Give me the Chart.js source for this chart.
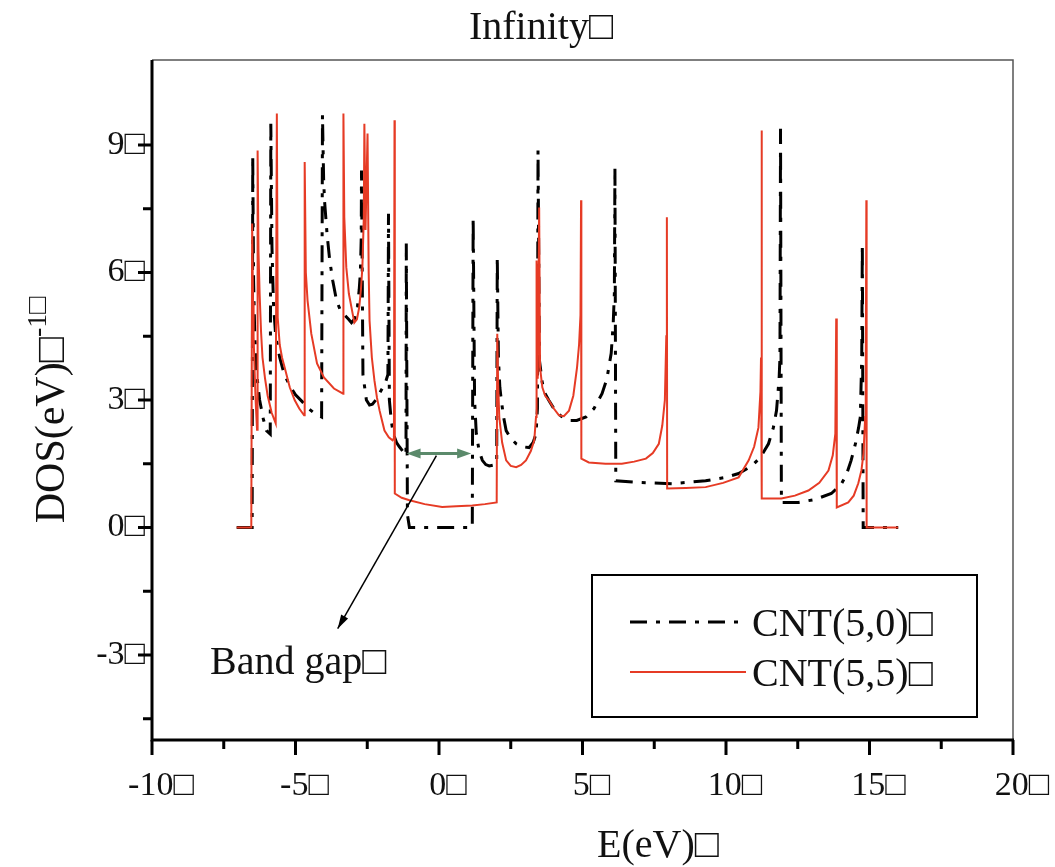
<!DOCTYPE html>
<html>
<head>
<meta charset="utf-8">
<script src="https://cdn.jsdelivr.net/npm/chart.js@4.4.0/dist/chart.umd.min.js"></script>
<style>
  html, body { margin: 0; padding: 0; background: #fff; }
  #divChartDos { width: 1055px; height: 867px; position: relative; }
</style>
</head>
<body>
<div id="divChartDos"><canvas id="chartDos"></canvas></div>
<script>
// values: [E (eV), DOS (1/eV)]
var cnt50 = [
    [-7.05, 0], [-6.51, 0], [-6.49, 8.75], [-6.46, 5.8], [-6.42, 4.56], [-6.35, 3.6], [-6.25, 3.0], [-6.12, 2.55],
    [-6.01, 2.28], [-5.88, 2.2], [-5.86, 9.5], [-5.82, 6.6], [-5.77, 5.3], [-5.69, 4.5], [-5.55, 4.0], [-5.40, 3.62],
    [-5.21, 3.35], [-5.00, 3.12], [-4.75, 2.95], [-4.55, 2.8], [-4.40, 2.72], [-4.09, 2.6], [-4.06, 9.7], [-4.02, 8.2],
    [-3.99, 7.7], [-3.90, 6.9], [-3.81, 6.3], [-3.70, 5.8], [-3.57, 5.34], [-3.43, 5.1], [-3.29, 5.0], [-3.15, 4.9],
    [-3.05, 4.82], [-2.95, 4.9], [-2.84, 5.2], [-2.78, 5.6], [-2.74, 6.0], [-2.71, 6.8], [-2.70, 8.4], [-2.65, 3.6],
    [-2.53, 3.0], [-2.42, 2.88], [-2.32, 2.9], [-2.20, 3.0], [-2.08, 3.15], [-1.95, 3.3], [-1.87, 3.4], [-1.78, 3.6],
    [-1.76, 7.38], [-1.73, 3.0], [-1.66, 2.5], [-1.59, 2.2], [-1.48, 2.0], [-1.38, 1.9], [-1.21, 1.75], [-1.15, 1.7],
    [-1.14, 6.68], [-1.10, 0.3], [-1.03, 0], [1.16, 0], [1.19, 7.3], [1.24, 3.0], [1.30, 2.2], [1.40, 1.8],
    [1.51, 1.58], [1.63, 1.48], [1.75, 1.45], [1.90, 1.47], [2.01, 1.5], [2.03, 6.37], [2.07, 4.0], [2.12, 3.3],
    [2.17, 3.0], [2.25, 2.6], [2.34, 2.28], [2.50, 2.1], [2.69, 1.97], [2.90, 1.9], [3.14, 1.88], [3.28, 2.0],
    [3.38, 2.2], [3.43, 2.8], [3.45, 8.87], [3.50, 3.93], [3.60, 3.4], [3.70, 3.15], [3.83, 2.99], [4.00, 2.8],
    [4.25, 2.62], [4.53, 2.52], [4.80, 2.52], [5.12, 2.6], [5.40, 2.8], [5.68, 3.15], [5.85, 3.5], [6.00, 4.1],
    [6.07, 4.8], [6.11, 5.5], [6.13, 8.47], [6.16, 1.1], [6.97, 1.06], [8.11, 1.03], [9.29, 1.1], [10.00, 1.18],
    [10.44, 1.27], [10.90, 1.45], [11.20, 1.65], [11.48, 1.97], [11.65, 2.35], [11.76, 2.75], [11.85, 3.5], [11.88, 4.0],
    [11.90, 9.38], [11.93, 0.59], [12.52, 0.59], [13.10, 0.66], [13.67, 0.8], [14.00, 1.0], [14.20, 1.25], [14.36, 1.58],
    [14.52, 2.0], [14.62, 2.35], [14.68, 2.6], [14.73, 4.0], [14.75, 6.68], [14.78, 0], [16.0, 0]
];
var cnt55 = [
    [-7.05, 0], [-6.54, 0], [-6.51, 7.15], [-6.48, 5.3], [-6.46, 4.5], [-6.42, 3.6], [-6.39, 3.0], [-6.34, 2.3],
    [-6.32, 8.87], [-6.29, 6.5], [-6.25, 5.5], [-6.20, 4.6], [-6.15, 4.0], [-6.06, 3.5], [-5.97, 3.1], [-5.83, 2.7],
    [-5.69, 2.45], [-5.65, 9.74], [-5.62, 4.94], [-5.55, 4.3], [-5.47, 4.0], [-5.38, 3.77], [-5.20, 3.3], [-5.03, 3.0],
    [-4.87, 2.8], [-4.70, 2.64], [-4.68, 8.6], [-4.64, 6.0], [-4.58, 5.34], [-4.45, 4.56], [-4.25, 3.86], [-4.01, 3.53],
    [-3.66, 3.27], [-3.34, 3.15], [-3.33, 9.74], [-3.30, 7.3], [-3.23, 6.12], [-3.14, 5.5], [-3.05, 5.18], [-2.95, 4.82],
    [-2.86, 4.9], [-2.78, 5.18], [-2.72, 5.6], [-2.67, 6.12], [-2.62, 7.3], [-2.60, 9.5], [-2.56, 7.0], [-2.49, 9.27],
    [-2.45, 6.0], [-2.42, 4.87], [-2.34, 4.0], [-2.25, 3.46], [-2.16, 3.05], [-2.07, 2.75], [-1.98, 2.5], [-1.90, 2.28],
    [-1.75, 2.12], [-1.62, 2.05], [-1.57, 2.1], [-1.55, 9.58], [-1.54, 0.8], [-1.30, 0.7], [-1.03, 0.64], [-0.50, 0.55],
    [0.11, 0.48], [0.60, 0.5], [1.16, 0.52], [1.60, 0.55], [2.01, 0.59], [2.03, 4.56], [2.06, 3.4], [2.10, 2.6],
    [2.20, 2.0], [2.34, 1.58], [2.50, 1.45], [2.69, 1.42], [2.86, 1.47], [3.03, 1.58], [3.20, 1.8], [3.32, 2.05],
    [3.38, 2.6], [3.40, 6.28], [3.44, 3.5], [3.49, 7.53], [3.52, 3.77], [3.60, 3.3], [3.70, 3.1], [3.83, 2.99],
    [4.00, 2.8], [4.18, 2.64], [4.35, 2.62], [4.53, 2.75], [4.68, 3.1], [4.81, 3.77], [4.88, 4.3], [4.93, 5.0],
    [4.95, 7.7], [4.96, 1.62], [5.22, 1.53], [5.80, 1.5], [6.37, 1.5], [6.80, 1.55], [7.21, 1.62], [7.45, 1.75],
    [7.66, 1.97], [7.78, 2.4], [7.87, 3.0], [7.92, 4.5], [7.94, 7.3], [7.95, 0.92], [8.60, 0.93], [9.29, 0.95],
    [9.90, 1.05], [10.44, 1.18], [10.79, 1.58], [10.98, 1.9], [11.13, 2.35], [11.20, 3.2], [11.22, 4.0], [11.24, 9.34],
    [11.25, 0.68], [11.93, 0.68], [12.40, 0.75], [12.87, 0.87], [13.25, 1.05], [13.57, 1.34], [13.72, 1.7], [13.81, 2.21],
    [13.84, 4.92], [13.86, 0.47], [14.26, 0.59], [14.45, 0.75], [14.61, 1.04], [14.72, 1.35], [14.79, 1.74], [14.85, 2.6],
    [14.87, 3.5], [14.89, 7.7], [14.90, 0], [16.0, 0]
];

var xMajorTicks = [-10, -5, 0, 5, 10, 15, 20];
var xMinorTicks = [-7.5, -2.5, 2.5, 7.5, 12.5, 17.5];
var yMajorTicks = [-3, 0, 3, 6, 9];
var yMinorTicks = [-4.5, -1.5, 1.5, 4.5, 7.5];
var seriesNames = ['CNT(5,0)\u25A1', 'CNT(5,5)\u25A1'];

// band gap marker (data units)
var gapArrow = {x1: -1.13, x2: 1.12, y: 1.74};
var pointer = {x1: -0.09, y1: 1.69, x2: -3.53, y2: -2.38};
var gapLabel = {x: -7.98, y: -3.44, text: 'Band gap\u25A1'};

var serif = '"Liberation Serif", "Times New Roman", serif';
var black = '#000';
var red = '#e63b25';

function toPoints(pairs) {
    return pairs.map(function(p) { return {x: p[0], y: p[1]}; });
}

function arrowHead(ctx, fromX, fromY, toX, toY, len, half) {
    var ang = Math.atan2(toY - fromY, toX - fromX);
    ctx.beginPath();
    ctx.moveTo(toX, toY);
    ctx.lineTo(toX - len * Math.cos(ang) + half * Math.sin(ang), toY - len * Math.sin(ang) - half * Math.cos(ang));
    ctx.lineTo(toX - len * Math.cos(ang) - half * Math.sin(ang), toY - len * Math.sin(ang) + half * Math.cos(ang));
    ctx.closePath();
    ctx.fill();
}

var decorPlugin = {
    id: 'decor',
    afterDatasetsDraw: function(chart) {
        var ctx = chart.ctx, a = chart.chartArea;
        var sx = chart.scales.x, sy = chart.scales.y;
        ctx.save();

        // frame
        ctx.strokeStyle = '#555';
        ctx.lineWidth = 1.5;
        ctx.beginPath();
        ctx.moveTo(a.left, a.top); ctx.lineTo(a.right, a.top); ctx.lineTo(a.right, a.bottom);
        ctx.stroke();
        ctx.strokeStyle = black;
        ctx.lineWidth = 3;
        ctx.beginPath();
        ctx.moveTo(a.left, a.top); ctx.lineTo(a.left, a.bottom); ctx.lineTo(a.right + 1, a.bottom);
        ctx.stroke();

        // ticks
        ctx.beginPath();
        xMajorTicks.forEach(function(v) { var p = sx.getPixelForValue(v); ctx.moveTo(p, a.bottom); ctx.lineTo(p, a.bottom + 15); });
        xMinorTicks.forEach(function(v) { var p = sx.getPixelForValue(v); ctx.moveTo(p, a.bottom); ctx.lineTo(p, a.bottom + 9); });
        yMajorTicks.forEach(function(v) { var p = sy.getPixelForValue(v); ctx.moveTo(a.left, p); ctx.lineTo(a.left - 14, p); });
        yMinorTicks.forEach(function(v) { var p = sy.getPixelForValue(v); ctx.moveTo(a.left, p); ctx.lineTo(a.left - 9, p); });
        ctx.stroke();

        // band gap double arrow
        var gx1 = sx.getPixelForValue(gapArrow.x1), gx2 = sx.getPixelForValue(gapArrow.x2), gy = sy.getPixelForValue(gapArrow.y);
        ctx.strokeStyle = '#5b8a6b';
        ctx.fillStyle = '#5b8a6b';
        ctx.lineWidth = 3;
        ctx.beginPath(); ctx.moveTo(gx1 + 8, gy); ctx.lineTo(gx2 - 8, gy); ctx.stroke();
        arrowHead(ctx, gx2, gy, gx1, gy, 14, 5);
        arrowHead(ctx, gx1, gy, gx2, gy, 14, 5);

        // pointer line
        var px1 = sx.getPixelForValue(pointer.x1), py1 = sy.getPixelForValue(pointer.y1);
        var px2 = sx.getPixelForValue(pointer.x2), py2 = sy.getPixelForValue(pointer.y2);
        ctx.strokeStyle = black;
        ctx.fillStyle = black;
        ctx.lineWidth = 1.5;
        ctx.beginPath(); ctx.moveTo(px1, py1); ctx.lineTo(px2, py2); ctx.stroke();
        arrowHead(ctx, px1, py1, px2, py2, 14, 4);

        ctx.fillStyle = '#111';
        ctx.font = '40px ' + serif;
        ctx.textAlign = 'left';
        ctx.textBaseline = 'alphabetic';
        ctx.fillText(gapLabel.text, sx.getPixelForValue(gapLabel.x), sy.getPixelForValue(gapLabel.y));

        // legend
        ctx.fillStyle = '#fff';
        ctx.fillRect(592, 575, 385, 142);
        ctx.strokeStyle = black;
        ctx.lineWidth = 2;
        ctx.strokeRect(592, 575, 385, 142);
        var rows = [{y: 622, ds: chart.data.datasets[0]}, {y: 672, ds: chart.data.datasets[1]}];
        rows.forEach(function(r) {
            ctx.save();
            ctx.strokeStyle = r.ds.borderColor;
            ctx.lineWidth = r.ds.borderWidth;
            ctx.setLineDash(r.ds.borderDash || []);
            ctx.beginPath(); ctx.moveTo(630, r.y); ctx.lineTo(746, r.y); ctx.stroke();
            ctx.restore();
            ctx.fillStyle = '#111';
            ctx.font = '40px ' + serif;
            ctx.fillText(r.ds.label, 752, r.y + 14);
        });

        // titles
        ctx.textAlign = 'center';
        ctx.font = '40px ' + serif;
        ctx.fillText('Infinity\u25A1', 541, 39);
        ctx.fillText('E(eV)\u25A1', 658, 857);

        // y title with superscript
        ctx.save();
        ctx.translate(64, 410);
        ctx.rotate(-Math.PI / 2);
        ctx.textAlign = 'left';
        ctx.font = '42px ' + serif;
        var mainText = 'DOS(eV)\u25A1';
        var w1 = ctx.measureText(mainText).width;
        ctx.font = '28px ' + serif;
        var supText = '-1\u25A1';
        var w2 = ctx.measureText(supText).width;
        var x0 = -(w1 + w2) / 2;
        ctx.font = '42px ' + serif;
        ctx.fillText(mainText, x0, 0);
        ctx.font = '28px ' + serif;
        ctx.fillText(supText, x0 + w1, -18);
        ctx.restore();

        ctx.restore();
    }
};

var ctx = document.getElementById('chartDos');
var dosChart = new Chart(ctx, {
    type: 'line',
    data: {
        datasets: [{
            label: seriesNames[0],
            data: toPoints(cnt50),
            borderColor: black,
            borderWidth: 3,
            borderDash: [17, 9, 4, 9],
            pointRadius: 0,
            tension: 0,
            order: 1
        }, {
            label: seriesNames[1],
            data: toPoints(cnt55),
            borderColor: red,
            borderWidth: 2,
            pointRadius: 0,
            tension: 0,
            order: 0
        }]
    },
    options: {
        responsive: true,
        maintainAspectRatio: false,
        animation: false,
        layout: { padding: { top: 60, right: 42, left: 0, bottom: 0 } },
        plugins: {
            legend: { display: false },
            tooltip: { enabled: false },
            title: { display: false }
        },
        scales: {
            x: {
                type: 'linear',
                min: -10,
                max: 20,
                afterBuildTicks: function(s) { s.ticks = xMajorTicks.map(function(v) { return {value: v}; }); },
                afterFit: function(s) { s.height = 127; s.paddingLeft = 0; s.paddingRight = 0; },
                grid: { display: false, drawTicks: false },
                border: { display: false },
                ticks: {
                    autoSkip: false,
                    maxRotation: 0,
                    padding: 26,
                    labelOffset: 9,
                    color: '#111',
                    font: { family: serif, size: 34 },
                    callback: function(v) { return v + '\u25A1'; }
                }
            },
            y: {
                type: 'linear',
                min: -5,
                max: 11,
                afterBuildTicks: function(s) { s.ticks = yMajorTicks.map(function(v) { return {value: v}; }); },
                afterFit: function(s) { s.width = 152; s.paddingTop = 0; s.paddingBottom = 0; },
                grid: { display: false, drawTicks: false },
                border: { display: false },
                ticks: {
                    padding: 7,
                    color: '#111',
                    font: { family: serif, size: 34 },
                    callback: function(v) { return v + '\u25A1'; }
                }
            }
        }
    },
    plugins: [decorPlugin]
});
</script>
</body>
</html>
